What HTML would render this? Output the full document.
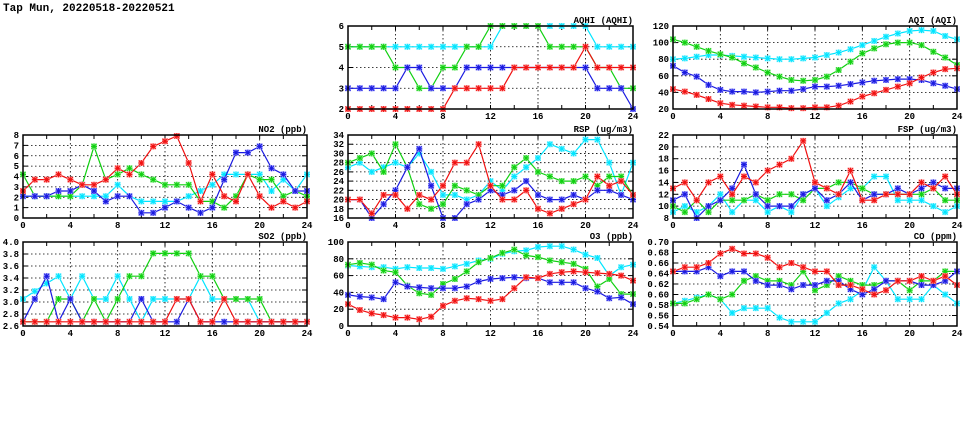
<!DOCTYPE html>
<html><head><meta charset="utf-8"><style>
html,body{margin:0;padding:0;background:#fff;}
svg{display:block;font-family:"Liberation Mono",monospace;font-weight:bold;}
</style></head><body>
<svg id="chart" width="975" height="447" viewBox="0 0 975 447" xmlns="http://www.w3.org/2000/svg">
<text x="3" y="11" font-size="11">Tap Mun, 20220518-20220521</text>
</svg>
<script>
const hours = [0,1,2,3,4,5,6,7,8,9,10,11,12,13,14,15,16,17,18,19,20,21,22,23,24];
const xTickLabels = [0,4,8,12,16,20,24];
const seriesNames = ['cyan','green','blue','red'];

const aqhiCyan  = [5,5,5,5,5,5,5,5,5,5,5,5,5,6,6,6,6,6,6,6,6,5,5,5,5];
const aqhiGreen = [5,5,5,5,4,4,3,3,4,4,5,5,6,6,6,6,6,5,5,5,5,4,4,3,3];
const aqhiBlue  = [3,3,3,3,3,4,4,3,3,3,4,4,4,4,4,4,4,4,4,4,4,3,3,3,2];
const aqhiRed   = [2,2,2,2,2,2,2,2,2,3,3,3,3,3,4,4,4,4,4,4,5,4,4,4,4];
const aqhiTicks = [2,3,4,5,6];

const aqiCyan  = [80,81,83,85,85,84,83,82,81,80,80,81,82,85,88,92,97,102,107,111,114,115,114,108,104];
const aqiGreen = [104,100,95,90,86,82,75,70,64,59,55,54,55,59,67,77,87,93,98,100,100,97,89,82,73];
const aqiBlue  = [72,64,59,49,43,41,41,40,41,42,42,44,47,47,48,50,52,54,55,56,56,55,51,48,44];
const aqiRed   = [44,41,37,32,27,25,24,23,22,22,21,21,22,22,24,29,35,39,43,47,51,58,64,68,69];
const aqiTicks = [20,40,60,80,100,120];

const no2Cyan  = [2.1,2.1,2.1,2.1,2.1,2.1,2.1,2.1,3.2,2.1,1.6,1.6,1.6,1.6,2.1,2.6,3.2,4.2,4.2,4.2,4.2,2.6,3.7,2.6,4.2];
const no2Green = [4.2,2.1,2.1,2.1,2.1,3.2,6.9,3.7,4.2,4.8,4.2,3.7,3.2,3.2,3.2,1.6,1.6,1.0,2.1,4.2,3.7,3.7,2.1,2.6,2.1];
const no2Blue  = [2.1,2.1,2.1,2.6,2.6,3.2,2.6,1.6,2.1,2.1,0.5,0.5,1.0,1.6,1.0,0.5,1.0,3.7,6.3,6.3,6.9,4.8,4.2,2.6,2.6];
const no2Red   = [2.6,3.7,3.7,4.2,3.7,3.2,3.2,3.7,4.8,4.2,5.3,6.9,7.4,7.9,5.3,1.6,4.2,2.1,1.6,4.2,2.1,1.0,1.6,1.0,1.6];
const no2Ticks = [0,1,2,3,4,5,6,7,8];

const rspCyan  = [27,28,26,27,28,27,30,26,21,21,20,21,24,22,25,27,29,32,31,30,33,33,28,21,28];
const rspGreen = [28,29,30,26,32,27,19,18,19,23,22,21,23,23,27,29,26,25,24,24,25,23,25,25,21];
const rspBlue  = [20,20,16,19,22,27,31,23,16,16,19,20,22,21,22,24,21,20,20,21,20,22,22,21,20];
const rspRed   = [20,20,17,21,21,18,21,20,23,28,28,32,23,20,20,22,18,17,18,19,20,25,23,24,21];
const rspTicks = [16,18,20,22,24,26,28,30,32,34];

const fspCyan  = [9,10,9,10,12,9,11,11,9,10,9,12,13,10,11.5,13,13,15,15,11,11,11,10,9,10];
const fspGreen = [10,9,11,9,11,11,11,12,11,12,12,11,13,13,14,14,13,12,12,12,12,12,13,11,11];
const fspBlue  = [11,12,8,10,11,13,17,12,10,10,10,12,13,11,12,14,11,12,12,13,12,13,14,13,13];
const fspRed   = [13,14,11,14,15,12,15,14,16,17,18,21,14,13,12,16,11,11,12,12,12,14,13,15,12];
const fspTicks = [8,10,12,14,16,18,20,22];

const so2Cyan  = [3.05,3.18,3.31,3.43,3.05,3.43,3.05,3.05,3.43,3.05,2.67,3.05,3.05,3.05,3.05,3.43,3.05,3.05,3.05,3.05,2.67,2.67,2.67,2.67,2.67];
const so2Green = [2.67,2.67,2.67,3.05,3.05,2.67,3.05,2.67,3.05,3.43,3.43,3.81,3.81,3.81,3.81,3.43,3.43,3.05,3.05,3.05,3.05,2.67,2.67,2.67,2.67];
const so2Blue  = [2.67,3.05,3.43,2.67,3.05,2.67,2.67,2.67,2.67,2.67,3.05,2.67,2.67,2.67,3.05,2.67,2.67,2.67,2.67,2.67,2.67,2.67,2.67,2.67,2.67];
const so2Red   = [2.67,2.67,2.67,2.67,2.67,2.67,2.67,2.67,2.67,2.67,2.67,2.67,2.67,3.05,3.05,2.67,2.67,3.05,2.67,2.67,2.67,2.67,2.67,2.67,2.67];
const so2Ticks = [2.6,2.8,3.0,3.2,3.4,3.6,3.8,4.0];

const o3Cyan  = [72,71,70,70,68,70,69,69,68,71,74,78,80,86,89,90,94,95,95,91,85,81,60,70,73];
const o3Green = [73,75,73,66,64,48,39,37,50,56,65,76,81,87,91,84,82,78,76,74,68,47,56,38,38];
const o3Blue  = [37,35,34,32,52,47,46,45,45,45,47,53,56,57,58,57,57,52,52,52,45,41,33,34,26];
const o3Red   = [26,19,15,13,10,10,8,11,24,30,33,32,30,32,45,58,57,62,64,65,64,63,62,60,54];
const o3Ticks = [0,20,40,60,80,100];

const coCyan  = [0.583,0.588,0.594,0.600,0.591,0.565,0.574,0.574,0.574,0.556,0.548,0.548,0.548,0.565,0.583,0.591,0.608,0.652,0.626,0.591,0.591,0.591,0.618,0.600,0.583];
const coGreen = [0.583,0.583,0.591,0.600,0.591,0.600,0.626,0.635,0.626,0.626,0.618,0.644,0.608,0.618,0.635,0.626,0.618,0.618,0.626,0.626,0.608,0.626,0.626,0.644,0.644];
const coBlue  = [0.644,0.644,0.644,0.652,0.635,0.644,0.644,0.626,0.618,0.618,0.610,0.618,0.618,0.626,0.626,0.610,0.600,0.610,0.626,0.626,0.626,0.618,0.618,0.626,0.644];
const coRed   = [0.644,0.652,0.652,0.660,0.678,0.687,0.678,0.678,0.670,0.652,0.660,0.652,0.644,0.644,0.618,0.618,0.610,0.600,0.608,0.626,0.626,0.635,0.626,0.635,0.618];
const coTicks = [0.54,0.56,0.58,0.60,0.62,0.64,0.66,0.68,0.70];

const colors = {cyan:['#00e5ff','#a0f4ff'],green:['#10d010','#a0f0a0'],blue:['#1a1ae0','#a0a0ff'],red:['#f01010','#ffa0a0']};
const svg = document.getElementById('chart');
const NS = 'http://www.w3.org/2000/svg';
function mk(tag, attrs, parent){const e=document.createElementNS(NS,tag);for(const k in attrs)e.setAttribute(k,attrs[k]);(parent||svg).appendChild(e);return e;}

const panels = [
 {id:'aqhi',title:'AQHI (AQHI)',x0:348,x1:633,y0:26,y1:109,ticks:aqhiTicks,dec:0,s:[aqhiCyan,aqhiGreen,aqhiBlue,aqhiRed]},
 {id:'aqi',title:'AQI (AQI)',x0:673,x1:957,y0:26,y1:109,ticks:aqiTicks,dec:0,s:[aqiCyan,aqiGreen,aqiBlue,aqiRed]},
 {id:'no2',title:'NO2 (ppb)',x0:23,x1:307,y0:135,y1:218,ticks:no2Ticks,dec:0,s:[no2Cyan,no2Green,no2Blue,no2Red]},
 {id:'rsp',title:'RSP (ug/m3)',x0:348,x1:633,y0:135,y1:218,ticks:rspTicks,dec:0,s:[rspCyan,rspGreen,rspBlue,rspRed]},
 {id:'fsp',title:'FSP (ug/m3)',x0:673,x1:957,y0:135,y1:218,ticks:fspTicks,dec:0,s:[fspCyan,fspGreen,fspBlue,fspRed]},
 {id:'so2',title:'SO2 (ppb)',x0:23,x1:307,y0:242,y1:326,ticks:so2Ticks,dec:1,s:[so2Cyan,so2Green,so2Blue,so2Red]},
 {id:'o3',title:'O3 (ppb)',x0:348,x1:633,y0:242,y1:326,ticks:o3Ticks,dec:0,s:[o3Cyan,o3Green,o3Blue,o3Red]},
 {id:'co',title:'CO (ppm)',x0:673,x1:957,y0:242,y1:326,ticks:coTicks,dec:2,s:[coCyan,coGreen,coBlue,coRed]}
];

panels.forEach(p=>{
  const g = mk('g',{});
  
  
  const ymin=p.ticks[0], ymax=p.ticks[p.ticks.length-1];
  const xs = h => p.x0 + (h/24)*(p.x1-p.x0);
  const ys = v => p.y1 - (v-ymin)/(ymax-ymin)*(p.y1-p.y0);
  // grid
  p.ticks.forEach((t,i)=>{
    const y=ys(t);
    if(i>0&&i<p.ticks.length-1){const l=mk('line',{x1:p.x0,x2:p.x1,y1:y,y2:y,stroke:'#000','stroke-width':0.8,'stroke-dasharray':'1.5,2.5'},g);
      }
    mk('line',{x1:p.x0,x2:p.x0+5,y1:y,y2:y,stroke:'#000','stroke-width':1},g);
    mk('line',{x1:p.x1-5,x2:p.x1,y1:y,y2:y,stroke:'#000','stroke-width':1},g);
    const tx=mk('text',{x:p.x0-4,y:y+3,'font-size':9,'text-anchor':'end'},g);
    
    tx.textContent=t.toFixed(p.dec);
  });
  for(let h=0;h<=24;h+=2){
    const x=xs(h);
    mk('line',{x1:x,x2:x,y1:p.y1,y2:p.y1-4,stroke:'#000','stroke-width':1},g);
    mk('line',{x1:x,x2:x,y1:p.y0,y2:p.y0+4,stroke:'#000','stroke-width':1},g);
  }
  xTickLabels.forEach((h,i)=>{
    const x=xs(h);
    if(i>0&&i<xTickLabels.length-1){const l=mk('line',{x1:x,x2:x,y1:p.y0,y2:p.y1,stroke:'#000','stroke-width':0.8,'stroke-dasharray':'1.5,2.5'},g);
      }
    const tx=mk('text',{x:x,y:p.y1+10,'font-size':9,'text-anchor':'middle'},g);
    
    tx.textContent=h;
  });
  // series
  p.s.forEach((arr,si)=>{
    const c=colors[seriesNames[si]];
    const sg=mk('g',{},g);
    
    
    const pts=arr.map((v,i)=>xs(hours[i]).toFixed(1)+','+ys(v).toFixed(1)).join(' ');
    const pl=mk('polyline',{points:pts,fill:'none',stroke:c[0],'stroke-width':1.2},sg);
    
    arr.forEach((v,i)=>{
      const x=xs(hours[i]), y=ys(v);
      const m=mk('g',{},sg);
      
      
      mk('rect',{x:x-3,y:y-3,width:6,height:6,fill:c[1]},m);
      mk('path',{d:`M${x-3} ${y}H${x+3}M${x} ${y-3}V${y+3}M${x-2.5} ${y-2.5}L${x+2.5} ${y+2.5}M${x-2.5} ${y+2.5}L${x+2.5} ${y-2.5}`,stroke:c[0],'stroke-width':1},m);
    });
  });
  const fr=mk('rect',{x:p.x0,y:p.y0,width:p.x1-p.x0,height:p.y1-p.y0,fill:'none',stroke:'#000','stroke-width':1.5},g);
  
  const tt=mk('text',{x:p.x1,y:p.y0-3,'font-size':9,'text-anchor':'end'},g);
  
  
  tt.textContent=p.title;
});
</script>
</body></html>
